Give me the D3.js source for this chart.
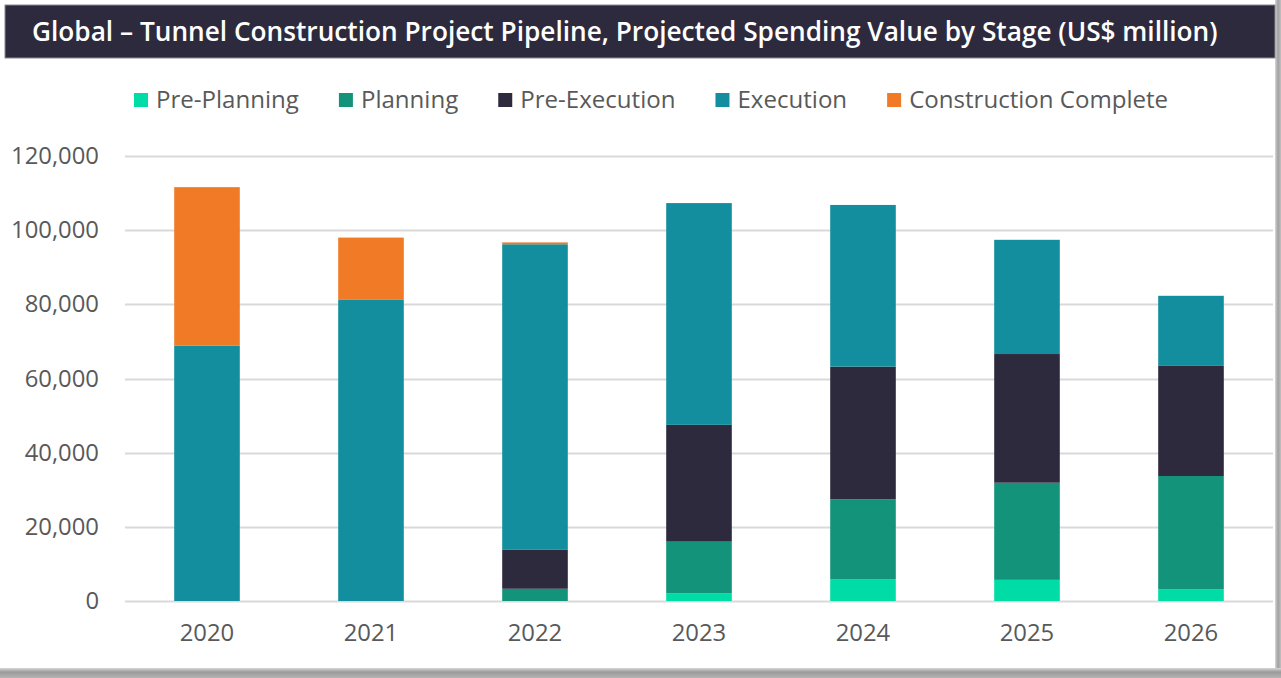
<!DOCTYPE html>
<html>
<head>
<meta charset="utf-8">
<script src="https://cdn.jsdelivr.net/npm/d3@7/dist/d3.min.js"></script>
<style>
  html, body { margin: 0; padding: 0; background: #ffffff; }
  svg { display: block; }
</style>
</head>
<body>
<svg id="chart" width="1281" height="678"></svg>
<script>
// Projected spending value by stage (US$ million)
const years = ["2020", "2021", "2022", "2023", "2024", "2025", "2026"];
const stages = ["Pre-Planning", "Planning", "Pre-Execution", "Execution", "Construction Complete"];
const prePlanning          = [0,     0,     0,     2100,  5900,  5700,  3200];
const planning             = [0,     0,     3300,  13900, 21500, 26200, 30500];
const preExecution         = [0,     0,     10600, 31500, 35800, 34700, 29700];
const execution            = [68900, 81200, 82300, 59800, 43600, 30800, 18900];
const constructionComplete = [42700, 16800, 500,   0,     0,     0,     0];
const yTicks = [0, 20000, 40000, 60000, 80000, 100000, 120000];
const stageColors = ["#00dca5", "#13937a", "#2e2a3e", "#128e9e", "#f07a26"];

const seriesValues = [prePlanning, planning, preExecution, execution, constructionComplete];
const rows = years.map((y, i) => {
  const r = { year: y };
  stages.forEach((s, k) => { r[s] = seriesValues[k][i]; });
  return r;
});

const svg = d3.select("#chart");
const W = 1281, H = 678;
const font = "'Open Sans', 'DejaVu Sans', sans-serif";

// Font size that makes a sample string span the given width
function fitSize(sample, width, weight) {
  const t = svg.append("text").attr("font-family", font).attr("font-weight", weight)
    .attr("font-size", 20).text(sample);
  const w = t.node().getComputedTextLength();
  t.remove();
  return 20 * width / w;
}

// Card shadow along the bottom and right edges
const defs = svg.append("defs");
const gB = defs.append("linearGradient").attr("id", "shB").attr("x1", 0).attr("y1", 0).attr("x2", 0).attr("y2", 1);
gB.append("stop").attr("offset", "0%").attr("stop-color", "#d8d8d8");
gB.append("stop").attr("offset", "40%").attr("stop-color", "#9a9a9a");
gB.append("stop").attr("offset", "100%").attr("stop-color", "#b4b4b4");
const gR = defs.append("linearGradient").attr("id", "shR").attr("x1", 0).attr("y1", 0).attr("x2", 1).attr("y2", 0);
gR.append("stop").attr("offset", "0%").attr("stop-color", "#d8d8d8");
gR.append("stop").attr("offset", "50%").attr("stop-color", "#a0a0a0");
gR.append("stop").attr("offset", "100%").attr("stop-color", "#c0c0c0");

svg.append("rect").attr("x", 0).attr("y", 0).attr("width", W).attr("height", H).attr("fill", "#ffffff");
svg.append("rect").attr("x", 0).attr("y", 668).attr("width", W).attr("height", 10).attr("fill", "url(#shB)");
svg.append("rect").attr("x", 1275).attr("y", 0).attr("width", 6).attr("height", 668).attr("fill", "url(#shR)");

// Title bar
const titleText = "Global \u2013 Tunnel Construction Project Pipeline, Projected Spending Value by Stage (US$ million)";
svg.append("rect")
  .attr("x", 5).attr("y", 5).attr("width", 1270).attr("height", 53)
  .attr("fill", "#2e2a3e").attr("stroke", "#8a8894").attr("stroke-width", 1);
svg.append("text")
  .attr("x", 32).attr("y", 41)
  .attr("fill", "#ffffff")
  .attr("font-family", font).attr("font-weight", 600)
  .attr("font-size", fitSize(titleText, 1186, 600))
  .text(titleText);

// Plot area
const x = d3.scaleBand().domain(years).range([125, 1273]).paddingInner(0.6).paddingOuter(0.3);
const y = d3.scaleLinear().domain([0, 120000]).range([601, 156]);

// Gridlines
svg.append("g")
  .selectAll("line").data(yTicks).join("line")
  .attr("x1", 125).attr("x2", 1273)
  .attr("y1", d => Math.round(y(d)) + 0.5).attr("y2", d => Math.round(y(d)) + 0.5)
  .attr("stroke", "#d9d9d9").attr("stroke-width", 2);

// Stacked bars
const stacked = d3.stack().keys(stages)(rows);
const color = d3.scaleOrdinal().domain(stages).range(stageColors);
svg.append("g")
  .selectAll("g").data(stacked).join("g")
  .attr("fill", d => color(d.key))
  .selectAll("rect").data(d => d.filter(p => p[1] - p[0] > 0)).join("rect")
  .attr("x", d => x(d.data.year))
  .attr("width", x.bandwidth())
  .attr("y", d => y(d[1]))
  .attr("height", d => y(d[0]) - y(d[1]));

const axisSize = fitSize("120,000", 88, 400);

// Y axis labels
const yAxis = svg.append("g")
  .attr("transform", "translate(99,0)")
  .call(d3.axisLeft(y).tickValues(yTicks).tickSize(0).tickPadding(0).tickFormat(d3.format(",")));
yAxis.select(".domain").remove();
yAxis.selectAll("text")
  .attr("fill", "#595959").attr("font-family", font).attr("font-size", axisSize);

// X axis labels
const xAxis = svg.append("g")
  .attr("transform", "translate(0,624)")
  .call(d3.axisBottom(x).tickSize(0).tickPadding(0));
xAxis.select(".domain").remove();
xAxis.selectAll("text")
  .attr("fill", "#595959").attr("font-family", font).attr("font-size", axisSize);

// Legend
const legendSize = fitSize("Pre-Planning", 143, 400);
const legend = svg.append("g").attr("transform", "translate(134,100)");
let lx = 0;
stages.forEach((s, k) => {
  const item = legend.append("g").attr("transform", `translate(${lx},0)`);
  item.append("rect").attr("x", 0).attr("y", -7).attr("width", 14).attr("height", 14).attr("fill", stageColors[k]);
  const t = item.append("text").attr("x", 22).attr("y", 0).attr("dy", "0.35em")
    .attr("fill", "#595959").attr("font-family", font).attr("font-size", legendSize).text(s);
  lx += 22 + t.node().getComputedTextLength() + 40;
});
</script>
</body>
</html>
